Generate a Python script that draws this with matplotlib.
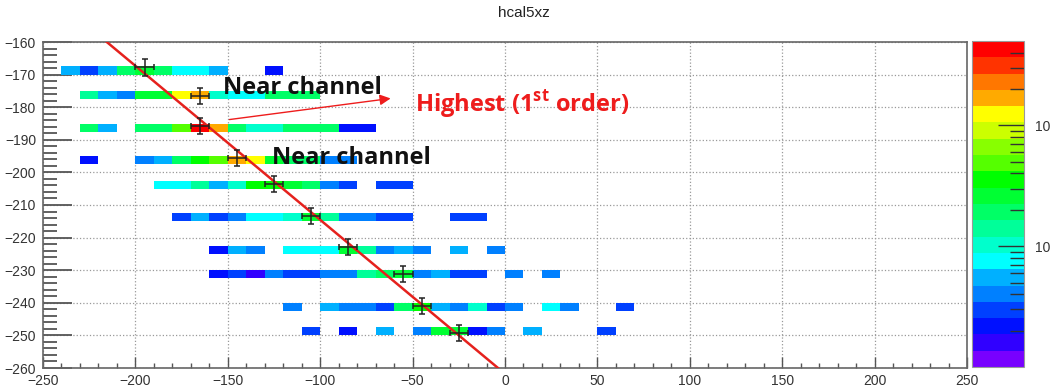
import numpy as np
import matplotlib.pyplot as plt
from matplotlib.colors import ListedColormap, LogNorm
from matplotlib.ticker import MultipleLocator, FixedLocator, NullFormatter

plt.rcParams['mathtext.fontset'] = 'custom'
plt.rcParams['mathtext.bf'] = 'Open Sans:bold'

# hcal5xz: per row, first bin centre (x) and bin contents, 0 = empty bin
row_y = [-168.75, -176.25, -186.25, -196.25, -203.75, -213.75, -223.75, -231.25, -241.25, -248.75]
row_x0 = [-235, -225, -225, -225, -185, -175, -155, -155, -115, -105]
row_n = [
    [5, 3, 5, 19, 24, 19, 7, 7, 5, 0, 0, 2],
    [13, 5, 4, 26, 30, 120, 160, 9, 8, 8, 22, 19, 22],
    [22, 5, 0, 22, 22, 45, 480, 160, 22, 10, 10, 22, 22, 22, 2, 2],
    [2, 0, 0, 4, 5, 22, 35, 45, 160, 120, 26, 22, 19, 4, 4],
    [7, 7, 13, 5, 10, 32, 38, 28, 19, 4, 3, 0, 3, 3],
    [3, 5, 3, 4, 7, 7, 10, 26, 13, 4, 4, 3, 3, 0, 0, 3, 3],
    [2, 5, 4, 0, 7, 7, 7, 26, 13, 4, 5, 4, 0, 5, 0, 4],
    [2, 3, 1.6, 4, 3, 3, 4, 4, 13, 22, 26, 4, 5, 3, 3, 0, 4, 0, 4],
    [4, 0, 5, 4, 4, 3, 22, 35, 5, 4, 10, 3, 4, 0, 7, 4, 0, 0, 3],
    [3, 0, 2, 0, 5, 0, 4, 26, 30, 2, 4, 0, 5, 0, 0, 0, 3],
]

# max bin of every row with errors
peak_x = [-195, -165, -165, -145, -125, -105, -85, -55, -45, -25]
peak_y = [-167.8, -176.6, -185.8, -195.5, -203.6, -213.4, -222.9, -231.1, -240.9, -249.3]
peak_ex = 5
peak_ey = 2.5

# straight line fit x = p0 + p1*y
p0, p1 = -554.2, -2.117

# 20 level rainbow palette
palette = ['#7800ff', '#3000ff', '#0010ff', '#0040ff', '#0080ff', '#00b0ff', '#00ffff',
           '#00ffcc', '#00ff99', '#00ff66', '#00ff33', '#00ff00', '#55ff00', '#88ff00',
           '#ccff00', '#ffff00', '#ffaa00', '#ff7700', '#ff3300', '#ff0000']

xedges = np.arange(-250, 251, 10)
yedges = np.arange(-260, -159.9, 2.5)

cell_x, cell_y, cell_w = [], [], []
for y, x0, counts in zip(row_y, row_x0, row_n):
    for k, n in enumerate(counts):
        cell_x.append(x0 + 10 * k)
        cell_y.append(y)
        cell_w.append(n)

H, _, _ = np.histogram2d(cell_x, cell_y, bins=[xedges, yedges], weights=cell_w)
H = np.ma.masked_less_equal(H.T, 0)

fig = plt.figure(figsize=(10.5, 3.91), dpi=100)
ax = fig.add_axes([43 / 1050, 23 / 391, 924 / 1050, 326 / 391])
cax = fig.add_axes([972 / 1050, 24 / 391, 52 / 1050, 326 / 391])

cmap = ListedColormap(palette)
norm = LogNorm(vmin=1, vmax=500)
mesh = ax.pcolormesh(xedges, yedges, H, cmap=cmap, norm=norm, zorder=1)

ax.set_xlim(-250, 250)
ax.set_ylim(-260, -160)
ax.set_axisbelow(True)
ax.grid(True, which='major', linestyle=':', color='#999999', lw=0.9)

ax.xaxis.set_major_locator(MultipleLocator(50))
ax.xaxis.set_minor_locator(MultipleLocator(10))
ax.yaxis.set_major_locator(MultipleLocator(10))
ax.yaxis.set_minor_locator(MultipleLocator(2))
ax.tick_params(axis='x', which='major', direction='in', length=8, width=1, color='#555555', pad=4)
ax.tick_params(axis='x', which='minor', direction='in', length=3.3, width=1, color='#555555')
ax.tick_params(axis='y', which='major', direction='in', length=21, width=1.3, color='#555555', pad=5)
ax.tick_params(axis='y', which='minor', direction='in', length=10, width=1.3, color='#555555')
for lab in ax.get_xticklabels() + ax.get_yticklabels():
    lab.set_fontfamily('Liberation Sans')
    lab.set_fontsize(10)
    lab.set_color('#333333')
for sp in ax.spines.values():
    sp.set_color('#666666')
    sp.set_linewidth(1.2)

# fit line
fy = np.array([-260, -160])
ax.plot(p0 + p1 * fy, fy, color='#e5211d', lw=1.8, zorder=4)

# peak points
ax.errorbar(peak_x, peak_y, xerr=peak_ex, yerr=peak_ey, fmt='none', ecolor='#222222',
            elinewidth=1.1, capsize=2.5, capthick=1.1, zorder=5)

# labels
ax.text(-152.6, -174.0, 'Near channel', fontsize=17, fontweight='bold', family='Open Sans',
        color='#111111', ha='left', va='center', zorder=6)
ax.text(-126.2, -195.5, 'Near channel', fontsize=17, fontweight='bold', family='Open Sans',
        color='#111111', ha='left', va='center', zorder=6)
ax.text(-48.7, -179.3, r'Highest (1$^{\mathbf{st}}$ order)', fontsize=17, fontweight='bold',
        family='Open Sans', color='#ee1c1c', ha='left', va='center', zorder=6)
ax.annotate('', xy=(-60.4, -177.2), xytext=(-150.6, -183.9),
            arrowprops=dict(arrowstyle='-|>', color='#ee1c1c', lw=1.0, mutation_scale=16),
            zorder=6)

fig.text(0.499, 1 - 13 / 391, 'hcal5xz', ha='center', va='center', fontsize=11,
         family='Liberation Sans', color='#222222')

# palette axis
cb = fig.colorbar(mesh, cax=cax)
cb.outline.set_edgecolor('#999999')
cax.yaxis.set_major_locator(FixedLocator([10, 100]))
cax.yaxis.set_major_formatter(plt.FixedFormatter(['10', '10']))
minor = [m * d for d in (1, 10, 100) for m in range(2, 10) if m * d < 500]
cax.yaxis.set_minor_locator(FixedLocator(minor))
cax.yaxis.set_minor_formatter(NullFormatter())
cax.tick_params(which='major', direction='in', length=19, width=1, color='#333333', pad=8)
cax.tick_params(which='minor', direction='in', length=10, width=1, color='#333333')
for lab in cax.get_yticklabels():
    lab.set_fontfamily('Liberation Sans')
    lab.set_fontsize(10)
    lab.set_color('#333333')

fig.savefig('out.png', dpi=100)
